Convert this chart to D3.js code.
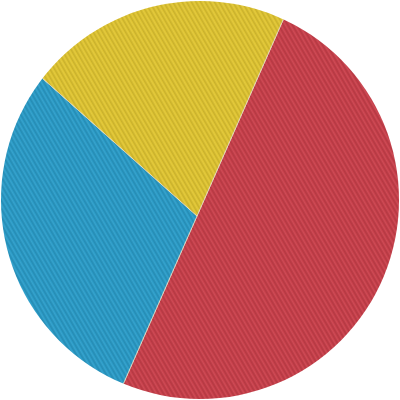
<!DOCTYPE html>
<html lang="en">
<head>
  <meta charset="UTF-8" />
  <title>Pie</title>
  <script src="https://d3js.org/d3.v7.min.js"></script>
  <style>
    body { margin: 0; background: #fff; }
    svg { display: block; }
  </style>
</head>
<body>
  <svg id="chart" width="400" height="400"></svg>
  <script>
    const labels = ['Red', 'Blue', 'Yellow'];
    const values = [50, 30, 20];
    const colors = ['#c9404b', '#2b9cc8', '#e0c532'];

    const width = 400, height = 400;
    const svg = d3.select('#chart');
    const defs = svg.append('defs');

    // outline of the disc (slightly off the point where slices meet, like the photo)
    defs.append('clipPath').attr('id', 'disc')
      .append('circle').attr('cx', 200).attr('cy', 200).attr('r', 199);

    // woven texture
    const pat = defs.append('pattern')
      .attr('id', 'weave').attr('patternUnits', 'userSpaceOnUse')
      .attr('width', 4).attr('height', 4)
      .attr('patternTransform', 'rotate(-30)');
    pat.append('rect').attr('x', 0).attr('width', 1.5).attr('height', 4)
      .attr('fill', '#000').attr('opacity', 0.1);
    pat.append('rect').attr('x', 2.2).attr('width', 0.8).attr('height', 4)
      .attr('fill', '#fff').attr('opacity', 0.08);

    const pie = d3.pie().sort(null).value(d => d)
      .startAngle(23.7 * Math.PI / 180)
      .endAngle((23.7 + 360) * Math.PI / 180);
    const arc = d3.arc().innerRadius(0).outerRadius(420);

    const g = svg.append('g').attr('clip-path', 'url(#disc)');
    const slices = g.append('g').attr('transform', 'translate(197,216)');

    slices.selectAll('path.slice')
      .data(pie(values))
      .join('path')
      .attr('class', 'slice')
      .attr('d', arc)
      .attr('fill', (d, i) => colors[i])
      .attr('stroke', '#e8e0c8')
      .attr('stroke-width', 0.8);

    g.append('rect').attr('width', width).attr('height', height)
      .attr('fill', 'url(#weave)');
  </script>
</body>
</html>
